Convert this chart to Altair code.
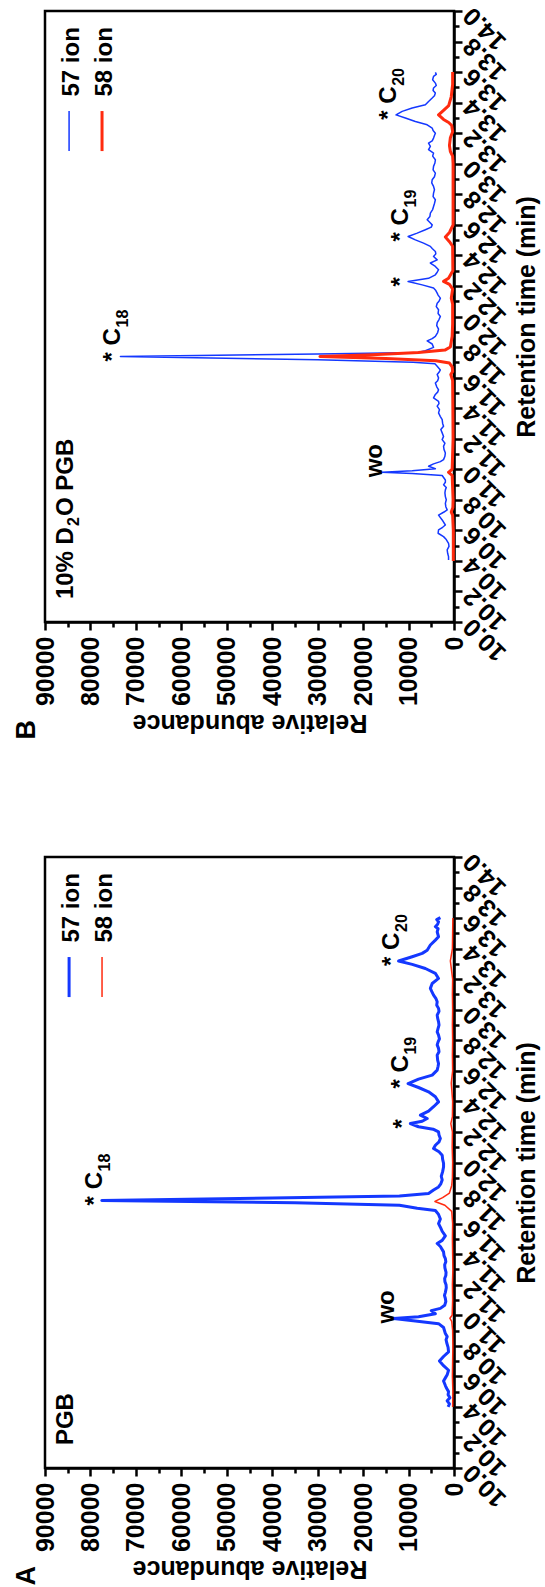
import altair as alt
import pandas as pd

FONT = "Liberation Sans"
BLUE = "#1438ff"
RED = "#ff2b0f"

# ---------------- data: panel A (PGB) ----------------
a57 = [(10.40, 1300), (10.42, 1000), (10.44, 1500), (10.46, 900), (10.48, 1300), (10.50, 1200), (10.52, 1600),
       (10.54, 1900), (10.57, 2300), (10.59, 1900), (10.61, 1500), (10.64, 1200), (10.67, 2300), (10.70, 3200),
       (10.73, 2300), (10.76, 1200), (10.79, 1300), (10.82, 1600), (10.84, 1750), (10.86, 1500), (10.88, 1900),
       (10.90, 2100), (10.92, 2300), (10.945, 3400), (10.963, 8500), (10.978, 13300), (10.99, 7800), (11.01, 4100),
       (11.03, 5000), (11.045, 3000), (11.065, 2050), (11.09, 1800), (11.11, 1900), (11.13, 2100), (11.15, 1900),
       (11.18, 1700), (11.20, 1750), (11.22, 2000), (11.24, 2050), (11.26, 1800), (11.28, 1750), (11.31, 2000),
       (11.33, 2050), (11.35, 1800), (11.37, 1900), (11.39, 2200), (11.415, 2300), (11.45, 3000), (11.47, 3700),
       (11.49, 2600), (11.52, 1900), (11.55, 2600), (11.57, 2900), (11.60, 3400), (11.63, 3000), (11.66, 3400),
       (11.686, 4100), (11.70, 8100), (11.72, 12000), (11.737, 35000), (11.752, 77500), (11.767, 40000),
       (11.78, 12000), (11.797, 5600), (11.82, 4500), (11.84, 3400), (11.86, 2900), (11.886, 2600), (11.91, 2800),
       (11.94, 2500), (11.97, 2300), (11.995, 2300), (12.02, 2500), (12.048, 2600), (12.07, 3300), (12.092, 4500),
       (12.113, 4100), (12.135, 3300), (12.157, 3000), (12.18, 3300), (12.20, 3400), (12.218, 4600), (12.234, 7800),
       (12.255, 9600), (12.27, 7000), (12.288, 5900), (12.31, 7400), (12.336, 5600), (12.365, 4500), (12.397, 3400),
       (12.43, 4100), (12.463, 5600), (12.491, 7800), (12.517, 10100), (12.546, 7800), (12.572, 4800), (12.605, 3700),
       (12.63, 3500), (12.648, 3400), (12.67, 3600), (12.703, 3700), (12.725, 3300), (12.747, 3400), (12.77, 3700),
       (12.79, 3500), (12.81, 3200), (12.834, 3400), (12.855, 3700), (12.878, 3500), (12.90, 3300), (12.921, 3400),
       (12.945, 3600), (12.965, 3700), (12.99, 3300), (13.009, 3400), (13.03, 3800), (13.052, 3700), (13.075, 4000),
       (13.096, 4500), (13.12, 4900), (13.14, 5200), (13.172, 4800), (13.205, 3400), (13.238, 4100), (13.27, 6300),
       (13.297, 9200), (13.319, 12200), (13.347, 9200), (13.369, 7000), (13.39, 5900), (13.424, 5200), (13.456, 4100),
       (13.478, 3400), (13.51, 3700), (13.53, 3500), (13.544, 4100), (13.56, 3600), (13.576, 3400), (13.59, 3800),
       (13.603, 3000)]
a58 = [(10.40, 300), (10.50, 250), (10.60, 350), (10.70, 300), (10.80, 250), (10.90, 300), (10.96, 500),
       (10.98, 900), (11.00, 400), (11.10, 300), (11.20, 350), (11.30, 250), (11.40, 300), (11.50, 350),
       (11.60, 300), (11.68, 500), (11.72, 2000), (11.745, 4200), (11.77, 2500), (11.80, 1000), (11.85, 500),
       (11.90, 350), (12.00, 300), (12.10, 400), (12.20, 350), (12.255, 700), (12.30, 350), (12.40, 300),
       (12.52, 600), (12.60, 300), (12.70, 350), (12.80, 300), (12.90, 350), (13.00, 300), (13.10, 350),
       (13.20, 300), (13.32, 800), (13.40, 350), (13.50, 300), (13.60, 250)]

# ---------------- data: panel B (10% D2O PGB) ----------------
b57 = [(10.406, 1200), (10.428, 1200), (10.45, 1400), (10.472, 1500), (10.495, 1100), (10.515, 1200), (10.54, 1700),
       (10.559, 2300), (10.581, 3500), (10.603, 3400), (10.62, 2500), (10.635, 1900), (10.668, 2600), (10.70, 3400),
       (10.72, 2200), (10.734, 1500), (10.755, 1800), (10.777, 1900), (10.80, 1700), (10.821, 1900), (10.845, 2000),
       (10.865, 1900), (10.88, 1700), (10.898, 2300), (10.915, 1900), (10.93, 1900), (10.959, 2600), (10.972, 9200),
       (10.98, 15850), (10.99, 9200), (11.004, 4100), (11.02, 5600), (11.035, 4500), (11.05, 3000), (11.063, 2300),
       (11.085, 2000), (11.107, 1900), (11.13, 2200), (11.15, 2300), (11.17, 2000), (11.194, 2600), (11.215, 2300),
       (11.238, 2600), (11.26, 2900), (11.282, 2300), (11.30, 2500), (11.325, 2600), (11.345, 3000), (11.369, 3400),
       (11.39, 3200), (11.413, 3700), (11.43, 3300), (11.445, 3400), (11.467, 4500), (11.49, 4100), (11.505, 3600),
       (11.52, 3400), (11.54, 3800), (11.565, 4100), (11.58, 3600), (11.598, 3400), (11.62, 3700), (11.635, 3300),
       (11.65, 3000), (11.674, 3700), (11.69, 4200), (11.70, 9000), (11.717, 30000), (11.738, 73400),
       (11.755, 30000), (11.765, 8000), (11.776, 6300), (11.798, 4500), (11.82, 4800), (11.84, 5900), (11.855, 4800),
       (11.87, 4100), (11.895, 3600), (11.917, 3400), (11.94, 3800), (11.96, 3700), (11.98, 3300), (12.0, 3000),
       (12.02, 3500), (12.044, 3400), (12.065, 3900), (12.087, 3700), (12.10, 3300), (12.12, 3000), (12.14, 3500),
       (12.153, 3700), (12.17, 4000), (12.186, 4500), (12.207, 7000), (12.229, 10100), (12.25, 5600), (12.273, 4100),
       (12.29, 3700), (12.306, 3400), (12.328, 4100), (12.35, 5200), (12.371, 3700), (12.393, 4500), (12.41, 4000),
       (12.426, 4100), (12.445, 4800), (12.459, 5200), (12.48, 6700), (12.502, 8500), (12.524, 10100), (12.546, 8100),
       (12.568, 6300), (12.585, 5000), (12.60, 4800), (12.615, 5300), (12.633, 5900), (12.655, 5300), (12.677, 5200),
       (12.70, 4700), (12.72, 4500), (12.74, 4300), (12.764, 4100), (12.785, 4600), (12.808, 4500), (12.83, 4300),
       (12.852, 4500), (12.875, 4900), (12.895, 4800), (12.915, 4300), (12.939, 4100), (12.96, 4600), (12.983, 4500),
       (13.005, 4200), (13.026, 4100), (13.05, 4700), (13.07, 4500), (13.092, 5600), (13.114, 5200), (13.135, 5600),
       (13.15, 4800), (13.168, 4500), (13.185, 4300), (13.20, 4100), (13.218, 4600), (13.234, 4800), (13.255, 5900),
       (13.277, 8500), (13.30, 10700), (13.32, 12760), (13.343, 11400), (13.365, 9200), (13.386, 6300),
       (13.408, 5600), (13.43, 4800), (13.445, 4300), (13.463, 4100), (13.48, 4600), (13.496, 4500), (13.512, 3900),
       (13.528, 4100), (13.55, 4700), (13.572, 4500), (13.585, 3900), (13.598, 4100)]
b58 = [(10.40, 150), (10.60, 150), (10.70, 300), (10.72, 600), (10.75, 250), (10.80, 200), (10.96, 400),
       (10.98, 1200), (11.00, 400), (11.20, 200), (11.40, 250), (11.58, 300), (11.62, 700), (11.64, 300),
       (11.67, 400), (11.695, 1000), (11.71, 4000), (11.725, 15000), (11.738, 29500), (11.75, 18000),
       (11.765, 7800), (11.78, 2000), (11.80, 800), (11.87, 400), (11.95, 300), (12.08, 300), (12.12, 600),
       (12.18, 300), (12.21, 1000), (12.23, 2300), (12.25, 1200), (12.30, 250), (12.46, 300), (12.49, 1000),
       (12.52, 1900), (12.55, 1000), (12.60, 200), (13.00, 200), (13.05, 300), (13.08, 800), (13.12, 1000),
       (13.17, 800), (13.21, 300), (13.25, 500), (13.27, 1170), (13.29, 2300), (13.32, 3400), (13.35, 2300),
       (13.38, 1170), (13.44, 600), (13.52, 300), (13.60, 300)]

# ---------------- annotations (anchored at peaks) ----------------
a_ann_t = [11.752, 12.517, 13.319, 12.255, 10.978]
a_ann_v = [77500, 10100, 12200, 9600, 13300]
a_ann_main = ["* C", "* C", "* C", "*", "wo"]
a_ann_sub = ["18", "19", "20", "", ""]

b_ann_t = [11.738, 12.524, 13.32, 12.229, 10.98]
b_ann_v = [73400, 10100, 12760, 10100, 15850]
b_ann_main = ["* C", "* C", "* C", "*", "wo"]
b_ann_sub = ["18", "19", "20", "", ""]

series_names = ["57 ion", "58 ion"]
legend_text_t = [13.44, 13.44]
legend_text_v = [82500, 75250]
legend_line_t = [13.345, 13.083]
legend_line_v = [84700, 77450]

sample_t = 10.15
sample_v = 83800
a_sample = ["PGB", "", ""]
b_sample = ["10% D", "2", "O PGB"]

time_major = [10.0, 10.2, 10.4, 10.6, 10.8, 11.0, 11.2, 11.4, 11.6, 11.8, 12.0, 12.2, 12.4, 12.6, 12.8,
              13.0, 13.2, 13.4, 13.6, 13.8, 14.0]
time_minor = [10.1, 10.3, 10.5, 10.7, 10.9, 11.1, 11.3, 11.5, 11.7, 11.9, 12.1, 12.3, 12.5, 12.7, 12.9,
              13.1, 13.3, 13.5, 13.7, 13.9]
abund_major = [0, 10000, 20000, 30000, 40000, 50000, 60000, 70000, 80000, 90000]
abund_minor = [5000, 15000, 25000, 35000, 45000, 55000, 65000, 75000, 85000]

W, H = 409, 611
FS = 24     # annotation / legend text
AFS = 25    # axis labels and titles

XS = alt.Scale(domain=[0, 90000], reverse=True, nice=False, zero=False)
YS = alt.Scale(domain=[10, 14], nice=False, zero=False)

COMMON = dict(grid=False, domainColor="black", domainWidth=2.5, tickColor="black", tickWidth=2.5)

X_AXIS = alt.Axis(
    orient="bottom", values=abund_major, format="d", tickSize=8,
    labelAngle=270, labelAlign="right", labelBaseline="middle", labelPadding=6,
    labelFont=FONT, labelFontSize=AFS, labelFontWeight="bold", labelColor="black",
    labelOverlap=False, labelFlush=False, labelBound=False,
    title="Relative abundance", titleAngle=180, titleBaseline="bottom", titleFont=FONT,
    titleFontSize=AFS, titleFontWeight="bold", titleColor="black", titlePadding=4, **COMMON,
)
X_MINOR = alt.Axis(orient="bottom", values=abund_minor, tickSize=5, labels=False, domain=False,
                   title=None, grid=False, tickColor="black", tickWidth=2.5)
Y_AXIS = alt.Axis(
    orient="right", values=time_major, format=".1f", tickSize=8,
    labelAngle=225, labelAlign="right", labelBaseline="middle", labelPadding=5,
    labelFont=FONT, labelFontSize=AFS, labelFontWeight="bold", labelColor="black",
    labelOverlap=False, labelFlush=False, labelBound=False,
    title="Retention time (min)", titleAngle=270, titleBaseline="top", titleFont=FONT,
    titleFontSize=AFS, titleFontWeight="bold", titleColor="black", titlePadding=4, **COMMON,
)
Y_MINOR = alt.Axis(orient="right", values=time_minor, tickSize=5, labels=False, domain=False,
                   title=None, grid=False, tickColor="black", tickWidth=2.5)


def xq(field, axis=None):
    return alt.X(f"{field}:Q", scale=XS, axis=axis)


def yq(field, axis=None):
    return alt.Y(f"{field}:Q", scale=YS, axis=axis)


def text_layer(df, field, size, dx, dy):
    return alt.Chart(df).mark_text(
        angle=270, align="left", baseline="alphabetic", font=FONT, fontSize=size,
        fontWeight="bold", color="black", dx=dx, dy=dy,
    ).encode(x=xq("v"), y=yq("t"), text=f"{field}:N")


def make_panel(s57, s58, w57, w58, letter, ann_t, ann_v, ann_main, ann_sub, sample):
    d57 = pd.DataFrame(s57, columns=["t", "v"])
    d58 = pd.DataFrame(s58, columns=["t", "v"])
    l57 = alt.Chart(d57).mark_line(color=BLUE, strokeWidth=w57, strokeJoin="round").encode(
        x=xq("v", X_AXIS), y=yq("t", Y_AXIS), order=alt.Order("t:Q"))
    l58 = alt.Chart(d58).mark_line(color=RED, strokeWidth=w58, strokeJoin="round").encode(
        x=xq("v", X_MINOR), y=yq("t", Y_MINOR), order=alt.Order("t:Q"))

    ann = pd.DataFrame({"t": ann_t, "v": ann_v, "main": ann_main, "sub": ann_sub})
    ann_main_l = text_layer(ann, "main", FS, -5, 0)
    ann_sub_l = text_layer(ann, "sub", 16, 29, 8)

    leg = pd.DataFrame({"label": series_names, "t": legend_text_t, "v": legend_text_v,
                        "lv": legend_line_v, "lt1": legend_line_t[0], "lt2": legend_line_t[1]})
    leg_text = text_layer(leg, "label", FS, 0, 0)
    leg_lines = []
    for i, (col, w) in enumerate([(BLUE, w57), (RED, w58)]):
        leg_lines.append(
            alt.Chart(leg.iloc[[i]]).mark_rule(color=col, strokeWidth=w)
            .encode(x=xq("lv"), y=yq("lt1"), y2="lt2:Q"))

    smp = pd.DataFrame({"t": [sample_t], "v": [sample_v], "p1": [sample[0]],
                        "p2": [sample[1]], "p3": [sample[2]]})
    s1 = text_layer(smp, "p1", FS, 0, 0)
    s2 = text_layer(smp, "p2", 16, 73, 6)
    s3 = text_layer(smp, "p3", FS, 83, 0)

    return alt.layer(l57, l58, ann_main_l, ann_sub_l, leg_text, *leg_lines, s1, s2, s3).resolve_axis(
        x="independent", y="independent"
    ).properties(
        width=W, height=H,
        title=alt.TitleParams(text=letter, orient="left", anchor="start", frame="bounds", angle=270,
                              font=FONT, fontSize=27, fontWeight="bold", color="black", offset=-8, dx=-5),
    )


panel_b = make_panel(b57, b58, 1.5, 3, "B", b_ann_t, b_ann_v, b_ann_main, b_ann_sub, b_sample)
panel_a = make_panel(a57, a58, 3, 1.5, "A", a_ann_t, a_ann_v, a_ann_main, a_ann_sub, a_sample)

chart = alt.vconcat(panel_b, panel_a, spacing=105).properties(
    padding={"left": 11, "top": 0, "right": 0, "bottom": 0}, background="white"
).configure_view(stroke="black", strokeWidth=2.5)

chart.save("out.html", embed_options={"renderer": "svg", "actions": False})
